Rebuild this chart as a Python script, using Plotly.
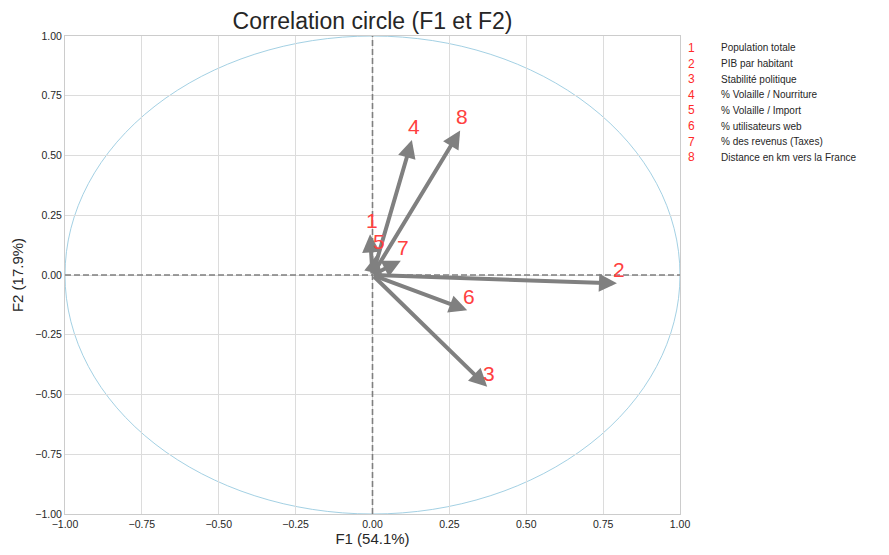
import plotly.graph_objects as go

# Data
var_ids = ["1", "2", "3", "4", "5", "6", "7", "8"]
var_names = ["Population totale", "PIB par habitant", "Stabilité politique",
             "% Volaille / Nourriture", "% Volaille / Import", "% utilisateurs web",
             "% des revenus (Taxes)", "Distance en km vers la France"]
f1 = [-0.008, 0.795, 0.373, 0.128, 0.014, 0.308, 0.092, 0.285]
f2 = [0.17, -0.035, -0.468, 0.565, 0.085, -0.148, 0.06, 0.605]
x_ticks = [-1.0, -0.75, -0.5, -0.25, 0.0, 0.25, 0.5, 0.75, 1.0]
y_ticks = [1.0, 0.75, 0.5, 0.25, 0.0, -0.25, -0.5, -0.75, -1.0]

# page body has an 8px margin; figure is offset accordingly
OFF = 8
W, H = 889 - 2 * OFF, 555 - 2 * OFF
L, T = 65 - OFF, 36 - OFF
plot_w, plot_h = 615, 478
R = W - L - plot_w
B = H - T - plot_h

fig = go.Figure()
fig.add_trace(go.Scatter(x=[None], y=[None], showlegend=False))

shapes = [
    dict(type="circle", xref="x", yref="y", x0=-1, y0=-1, x1=1, y1=1,
         line=dict(color="#8cc4dc", width=0.8), layer="below"),
    dict(type="line", xref="x", yref="y", x0=-1, x1=1, y0=0, y1=0,
         line=dict(color="#7f7f7f", width=1.6, dash="6px,3px")),
    dict(type="line", xref="x", yref="y", x0=0, x1=0, y0=-1, y1=1,
         line=dict(color="#7f7f7f", width=1.6, dash="6px,3px")),
]

annotations = []
for i, (vx, vy) in enumerate(zip(f1, f2)):
    annotations.append(dict(
        x=vx, y=vy, xref="x", yref="y", ax=0, ay=0, axref="x", ayref="y",
        text="", showarrow=True, arrowhead=2, arrowsize=0.9, arrowwidth=4,
        arrowcolor="#808080", standoff=0, startstandoff=0))
for i, (vx, vy) in enumerate(zip(f1, f2)):
    annotations.append(dict(
        x=vx, y=vy, xref="x", yref="y", text=var_ids[i], showarrow=False,
        xanchor="left", yanchor="bottom", xshift=-5, yshift=1, borderpad=0,
        font=dict(family="Liberation Sans, Arial", size=21, color="#ff4040")))

row_h = 15.6
for i, (vid, name) in enumerate(zip(var_ids, var_names)):
    py = 48 - OFF + i * row_h
    yp = (H - B - py) / plot_h
    annotations.append(dict(
        x=(691 - 65) / plot_w, y=yp, xref="paper", yref="paper", text=vid,
        showarrow=False, xanchor="center", yanchor="middle",
        font=dict(family="Liberation Sans, Arial", size=12, color="#ff2a2a")))
    annotations.append(dict(
        x=(719 - 65) / plot_w, y=yp, xref="paper", yref="paper", text=name,
        showarrow=False, xanchor="left", yanchor="middle",
        font=dict(family="Liberation Sans, Arial", size=10, color="#262626")))

axis_common = dict(
    range=[-1, 1], showgrid=True, gridcolor="#dcdcdc", gridwidth=1,
    zeroline=False, showline=True, linecolor="#cccccc", linewidth=1, mirror=True,
    automargin=False,
    tickformat=".2f", ticks="", tickfont=dict(family="Liberation Sans, Arial", size=10.5, color="#262626"),
    title_font=dict(family="Liberation Sans, Arial", size=15, color="#262626"),
)

fig.update_layout(
    width=W, height=H,
    margin=dict(l=L, r=R, t=T, b=B, autoexpand=False),
    plot_bgcolor="white", paper_bgcolor="white",
    title=dict(text="Correlation circle (F1 et F2)", x=(L + plot_w / 2) / W, xanchor="center",
               y=1 - (21 - OFF) / H, yanchor="middle", automargin=False,
               font=dict(family="Liberation Sans, Arial", size=23, color="#262626")),
    xaxis=dict(axis_common, tickvals=x_ticks, title=dict(text="F1 (54.1%)", standoff=6)),
    yaxis=dict(axis_common, tickvals=y_ticks, title=dict(text="F2 (17.9%)", standoff=8)),
    shapes=shapes, annotations=annotations, showlegend=False,
)

fig.write_html("out.html")
